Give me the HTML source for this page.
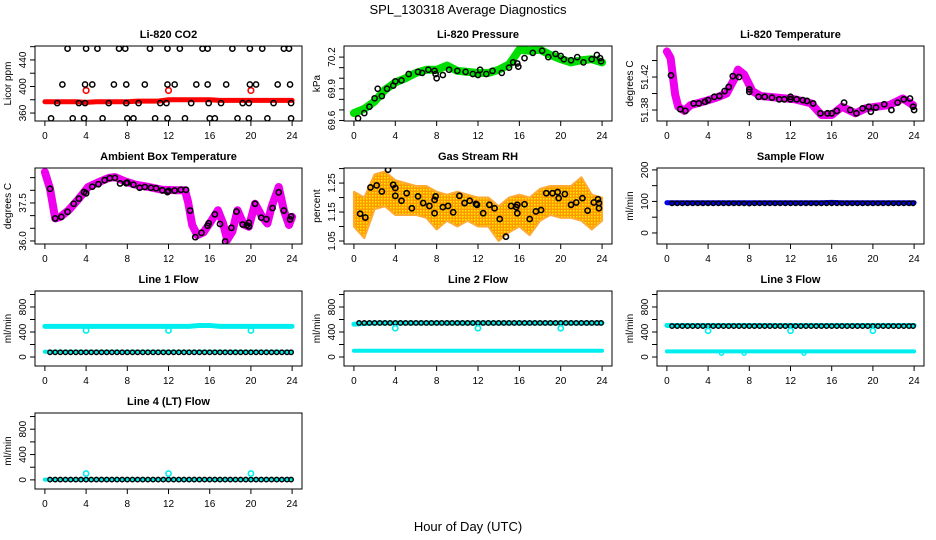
<!DOCTYPE html>
<html><head><meta charset="utf-8"><style>
body{margin:0;background:#fff}
svg{display:block;font-family:"Liberation Sans",sans-serif}
</style></head><body>
<svg id="c" width="936" height="540" viewBox="0 0 936 540">
<defs>
<pattern id="dots" width="3" height="3" patternUnits="userSpaceOnUse"><rect width="3" height="3" fill="#ff9900"/><rect width="1.5" height="1.5" fill="#ffee00"/></pattern>
</defs>
<text x="468" y="14" text-anchor="middle" font-size="13">SPL_130318  Average Diagnostics</text>
<text x="468" y="531" text-anchor="middle" font-size="13">Hour of Day (UTC)</text>
</svg>
<script>
const xTicks=[0,4,8,12,16,20,24];
const halfHours=[0.5,1,1.5,2,2.5,3,3.5,4,4.5,5,5.5,6,6.5,7,7.5,8,8.5,9,9.5,10,10.5,11,11.5,12,12.5,13,13.5,14,14.5,15,15.5,16,16.5,17,17.5,18,18.5,19,19.5,20,20.5,21,21.5,22,22.5,23,23.5,23.9];
const hours=[0,1,2,3,4,5,6,7,8,9,10,11,12,13,14,15,16,17,18,19,20,21,22,23,24];
// CO2
const co2Red=[377,377,377,377,376,377,377,377,377,378,378,378,380,380,380,380,380,379,379,379,379,379,379,379,379];
const co2OutX=[4,12,20], co2OutY=[394,394,394];
const co2BlackX=[2.2,4.0,5.1,7.2,7.8,10.2,11.9,13.1,15.3,15.8,18.2,19.9,21.1,23.2,23.7, 1.7,3.9,4.6,6.7,7.9,9.7,11.9,12.6,14.7,15.8,17.6,19.9,20.5,22.6,23.8, 1.2,3.3,3.9,6.2,7.9,9.1,11.2,11.8,14.2,15.9,17.1,19.2,19.8,22.2,23.9, 0.6,2.7,3.8,5.6,8.0,8.6,10.7,11.9,13.6,16.0,16.5,18.7,19.8,21.6,23.9];
const co2BlackY=[457,457,457,457,457,457,457,457,457,457,457,457,457,457,457, 403,403,403,403,403,403,403,403,403,403,403,403,403,403,403, 375,375,375,375,375,375,375,375,375,375,375,375,375,375,375, 352,352,352,352,352,352,352,352,352,352,352,352,352,352,352];
// Pressure
const presBand=[69.67,69.71,69.78,69.89,69.96,70.00,70.05,70.08,70.08,70.12,70.07,70.06,70.05,70.05,70.08,70.13,70.27,70.26,70.27,70.22,70.18,70.15,70.17,70.18,70.15];
const presBlackX=[0.4,1,1.5,2,2.3,2.7,3.2,3.8,4.0,4.6,5.3,6.2,6.6,7.2,7.8,7.9,8,8.6,9.2,10.0,10.8,11.5,12.0,12.2,12.8,13.4,14.3,15.0,15.4,15.8,15.9,16.5,17.3,18.2,18.8,19.5,20.0,20.3,21,21.6,22.2,23.0,23.5,23.8,23.9];
const presBlackY=[69.62,69.67,69.73,69.81,69.90,69.83,69.90,69.93,69.97,69.98,70.04,70.06,70.05,70.08,70.07,70.04,70.00,70.03,70.08,70.07,70.06,70.04,70.03,70.08,70.04,70.07,70.05,70.10,70.15,70.14,70.11,70.19,70.24,70.26,70.20,70.23,70.21,70.18,70.17,70.20,70.15,70.18,70.22,70.19,70.16];
// Li-820 temperature
const tempBandX=[0,0.36,0.6,0.8,1.1,1.7,2.3,3.5,4.8,5.8,6.6,6.9,7.5,8.3,9.1,10.7,12.4,14.0,15,16,17,18.3,19.3,20.3,21.6,22.9,23.9];
const tempBandY=[51.451,51.443,51.419,51.399,51.384,51.379,51.386,51.39,51.395,51.40,51.419,51.429,51.423,51.403,51.397,51.395,51.393,51.388,51.374,51.374,51.384,51.376,51.382,51.384,51.386,51.394,51.386];
const tempBlackX=[0.4,1.3,1.8,2.6,3.1,3.7,4.0,4.6,5.1,5.6,6.0,6.4,7.0,8.0,8.0,8.9,9.5,10.2,10.9,11.4,12.0,12.0,12.6,13.2,13.6,14.2,14.9,15.6,16.0,16.5,17.2,17.8,18.4,19.0,19.6,19.8,20.3,21.1,21.8,22.4,23.0,23.6,23.9,24];
const tempBlackY=[51.422,51.381,51.379,51.388,51.388,51.390,51.392,51.396,51.397,51.403,51.408,51.421,51.420,51.405,51.402,51.396,51.396,51.395,51.393,51.393,51.396,51.393,51.393,51.392,51.391,51.388,51.376,51.376,51.376,51.379,51.389,51.380,51.376,51.382,51.384,51.378,51.383,51.387,51.380,51.389,51.393,51.394,51.384,51.380];
// Ambient box temperature
const ambBandX=[0,0.5,1.0,1.5,2.3,3.3,4.2,5.2,6.2,6.8,7.8,8.8,10.1,11.4,12.7,13.6,13.9,14.3,14.8,15.4,16.1,16.8,17.3,17.7,18.2,18.7,19.3,19.8,20.4,21.1,21.6,22.0,22.7,23.2,23.7,24];
const ambBandY=[38.72,38.06,36.89,36.95,37.21,37.67,38.13,38.32,38.49,38.52,38.35,38.22,38.13,38.02,38.0,38.0,37.54,36.63,36.23,36.34,36.76,37.21,36.69,36.04,36.37,37.21,36.65,36.56,37.47,36.95,36.69,37.34,38.13,37.21,36.63,36.95];
const ambBlackX=[0.5,1.0,1.6,2.2,2.8,3.3,3.8,4.0,4.6,5.2,5.8,6.3,6.8,7.3,7.9,8,8.6,9.2,9.7,10.3,10.8,11.4,11.9,12.0,12.6,13.2,13.7,14.1,14.6,15.2,15.8,15.9,16.5,17.0,17.5,18.1,18.6,19.2,19.6,19.8,19.8,20.4,21.0,21.5,22.1,22.7,23.2,23.8,23.9];
const ambBlackY=[38.06,36.89,36.95,37.15,37.47,37.67,37.93,37.88,38.14,38.24,38.40,38.48,38.49,38.27,38.28,38.30,38.22,38.10,38.13,38.10,38.08,38.00,37.93,37.98,37.99,38.02,38.02,37.20,36.15,36.32,36.60,36.70,37.05,36.67,35.98,36.52,37.16,36.65,36.62,36.57,36.72,37.47,36.92,36.86,37.30,37.92,37.20,36.85,36.97];
// Gas stream RH
const rhUpper=[1.22,1.20,1.28,1.29,1.26,1.25,1.24,1.24,1.22,1.21,1.22,1.21,1.20,1.20,1.17,1.20,1.21,1.20,1.23,1.24,1.24,1.24,1.27,1.21,1.20];
const rhLower=[1.10,1.06,1.16,1.17,1.14,1.14,1.14,1.13,1.09,1.12,1.10,1.12,1.10,1.10,1.05,1.08,1.10,1.07,1.12,1.14,1.13,1.13,1.12,1.09,1.12];
const rhBlackX=[0.6,1.1,1.6,2.2,2.7,3.3,3.8,4.0,4.0,4.6,5.1,5.6,6.2,6.7,7.3,7.8,7.8,7.9,8.6,9.1,9.6,10.2,10.7,11.2,11.8,11.9,12.5,13.1,13.6,14.1,14.7,15.2,15.7,15.8,15.8,16.5,17.0,17.6,18.1,18.6,19.2,19.7,19.8,20.4,21.0,21.5,22.1,22.6,23.2,23.6,23.7,23.7];
const rhBlackY=[1.144,1.131,1.235,1.242,1.221,1.296,1.244,1.233,1.206,1.189,1.215,1.163,1.204,1.181,1.171,1.192,1.146,1.204,1.167,1.171,1.149,1.206,1.181,1.189,1.178,1.175,1.146,1.175,1.163,1.126,1.065,1.171,1.167,1.175,1.146,1.177,1.126,1.152,1.157,1.215,1.215,1.219,1.198,1.212,1.175,1.183,1.198,1.155,1.183,1.194,1.163,1.181];
// Sample flow
const sampleBand=[96,96,96,96,96,96,96,96,96,96,96,96,96,96,96,96,97,96,96,96,96,96,96,96,96];
const sampleBlack=[94,94,94,94,94,94,94,94,94,94,94,94,94,94,94,93,94,94,94,94,94,94,94,94,94,94,94,94,94,94,94,94,94,94,94,94,94,94,94,94,94,94,94,94,94,94,94,94];
// Line flows
const l1Upper=[490,490,490,490,490,490,490,490,490,490,490,490,490,490,490,505,505,490,490,490,490,490,490,490,490];
const l1Lower=[85,85,85,85,85,85,85,85,85,85,85,85,85,85,85,85,85,85,85,85,85,85,85,85,85];
const l1Black=[75,75,75,75,75,75,75,75,75,75,75,75,75,75,75,75,75,75,75,75,75,75,75,75,75,75,75,75,75,75,75,75,75,75,75,75,75,75,75,75,75,75,75,75,75,75,75,75];
const l1OutY=[425,425,425];
const l2Upper=[525,535,545,545,545,545,545,545,545,545,545,545,545,545,545,545,545,545,545,545,545,545,545,545,545];
const l2Lower=[100,100,100,100,100,100,100,100,100,100,100,100,100,100,100,100,100,100,100,100,100,100,100,100,100];
const l2Black=[545,545,545,545,545,545,545,545,545,545,545,545,545,545,545,545,545,545,545,545,545,545,545,545,545,545,545,545,545,545,545,545,545,545,545,545,545,545,545,545,545,545,545,545,545,545,545,545];
const l2OutY=[460,460,460];
const l3Upper=[505,505,505,505,505,505,505,505,505,505,505,505,505,505,505,505,505,505,505,505,505,505,505,505,505];
const l3Lower=[90,90,90,90,90,90,90,90,90,90,90,90,90,90,90,90,90,90,90,90,90,90,90,90,90];
const l3Black=[495,495,495,495,495,495,495,495,495,495,495,495,495,495,495,495,495,495,495,495,495,495,495,495,495,495,495,495,495,495,495,495,495,495,495,495,495,495,495,495,495,495,495,495,495,495,495,495];
const l3OutY=[420,420,420];
const l3DipX=[5.3,7.5,13.3], l3DipY=[60,60,60];
const l4Cyan=[5,5,5,5,5,5,5,5,5,5,5,5,5,5,5,5,5,5,5,5,5,5,5,5,5];
const l4Black=[5,5,5,5,5,5,5,5,5,5,5,5,5,5,5,5,5,5,5,5,5,5,5,5,5,5,5,5,5,5,5,5,5,5,5,5,5,5,5,5,5,5,5,5,5,5,5,5];
const l4OutY=[100,100,100];
const outX=[4,12,20];

const NS="http://www.w3.org/2000/svg";
const svg=document.getElementById('c');
const colL=[35,344,657], colR=[302,612,924];
const rowT=[46,168,291,413], rowB=[121,244,366,489];
let clipN=0;
function mk(tag,attrs,parent){const e=document.createElementNS(NS,tag);for(const k in attrs)e.setAttribute(k,attrs[k]);(parent||svg).appendChild(e);return e;}

function panel(col,row,title,ylab,ymin,ymax,yTicks,yLabels,name){
  const L=colL[col],R=colR[col],T=rowT[row],B=rowB[row];
  const g=mk('g',{});
  
  
  const x=v=>L+(v+0.96)/25.92*(R-L);
  const y=v=>B-(v-ymin)/(ymax-ymin)*(B-T);
  const id='cl'+(clipN++);
  const cp=mk('clipPath',{id:id},g);mk('rect',{x:L,y:T,width:R-L,height:B-T},cp);
  const data=mk('g',{'clip-path':'url(#'+id+')'},g);
  
  
  const box=mk('rect',{x:L,y:T,width:R-L,height:B-T,fill:'none',stroke:'#000','stroke-width':1},g);
  
  
  const t=mk('text',{x:(L+R)/2,y:T-8,'text-anchor':'middle','font-size':11,'font-weight':'bold'},g);
  t.textContent=title;
  
  
  const xa=mk('g',{},g);
  
  
  xTicks.forEach(v=>{
    mk('line',{x1:x(v),x2:x(v),y1:B,y2:B+5,stroke:'#000'},xa);
    const tl=mk('text',{x:x(v),y:B+18,'text-anchor':'middle','font-size':10},xa);
    tl.textContent=v;
    
    
  });
  const ya=mk('g',{},g);
  
  
  yTicks.forEach(v=>{mk('line',{x1:L-5,x2:L,y1:y(v),y2:y(v),stroke:'#000'},ya);});
  yLabels.forEach(v=>{
    const tl=mk('text',{x:L-9,y:y(v),'text-anchor':'middle','font-size':10,transform:`rotate(-90 ${L-9} ${y(v)})`},ya);
    tl.textContent=v;
    
    
  });
  const yl=mk('text',{x:L-24,y:(T+B)/2,'text-anchor':'middle','font-size':10,transform:`rotate(-90 ${L-24} ${(T+B)/2})`},g);
  yl.textContent=ylab;
  
  
  return {x,y,g:data};
}
function band(p,xs,ys,color,w,nm){
  const pts=xs.map((v,i)=>p.x(v)+','+p.y(ys[i])).join(' ');
  const e=mk('polyline',{points:pts,fill:'none',stroke:color,'stroke-width':w,'stroke-linejoin':'round','stroke-linecap':'round'},p.g);
  
  
}
function circles(p,xs,ys,color,r,sw,nm){
  xs.forEach((v,i)=>{
    const e=mk('circle',{cx:p.x(v),cy:p.y(ys[i]),r:r,fill:'none',stroke:color,'stroke-width':sw},p.g);
    
    
  });
}
function areaBand(p,xs,up,lo,nm){
  const pts=xs.map((v,i)=>p.x(v)+','+p.y(up[i])).concat(xs.slice().reverse().map((v,i)=>p.x(v)+','+p.y(lo[xs.length-1-i]))).join(' ');
  const e=mk('polygon',{points:pts,fill:'url(#dots)',stroke:'#ffaa33','stroke-width':2,'stroke-linejoin':'round'},p.g);
  
  
}

let p=panel(0,0,'Li-820 CO2','Licor ppm',348,461,[360,380,400,420,440,460],[360,400,440],'co2');
band(p,hours,co2Red,'#ff0000',5,'co2-band');
circles(p,co2OutX,co2OutY,'#ff0000',2.8,1.6,'co2-outlier');
circles(p,co2BlackX,co2BlackY,'#000',2.6,1.5,'co2-point');
p=panel(1,0,'Li-820 Pressure','kPa',69.595,70.305,[69.6,69.7,69.8,69.9,70.0,70.1,70.2],[69.6,69.9,70.2],'pressure');
band(p,hours,presBand,'#00dd00',8,'pressure-band');
circles(p,presBlackX,presBlackY,'#000',2.6,1.5,'pressure-point');
p=panel(2,0,'Li-820 Temperature','degrees C',51.3667,51.4576,[51.38,51.40,51.42,51.44],[51.38,51.42],'li-temp');
band(p,tempBandX,tempBandY,'#ee00ee',8,'li-temp-band');
circles(p,tempBlackX,tempBlackY,'#000',2.6,1.6,'li-temp-point');
p=panel(0,1,'Ambient Box Temperature','degrees C',35.88,38.88,[36.0,36.5,37.0,37.5,38.0,38.5],['36.0','37.5'],'ambient');
band(p,ambBandX,ambBandY,'#ee00ee',8,'ambient-band');
circles(p,ambBlackX,ambBlackY,'#000',2.6,1.6,'ambient-point');
p=panel(1,1,'Gas Stream RH','percent',1.0397,1.302,[1.05,1.10,1.15,1.20,1.25,1.30],[1.05,1.15,1.25],'rh');
areaBand(p,hours,rhUpper,rhLower,'rh-band');
circles(p,rhBlackX,rhBlackY,'#000',2.6,1.6,'rh-point');
p=panel(2,1,'Sample Flow','ml/min',-35,206,[0,50,100,150,200],[0,100,200],'sample-flow');
band(p,hours,sampleBand,'#0000ee',5,'sample-flow-band');
circles(p,halfHours,sampleBlack,'#000',2.2,1.4,'sample-flow-point');
const flowTicks=[0,200,400,600,800,1000], flowLabels=[0,400,800];
p=panel(0,2,'Line 1 Flow','ml/min',-144,1056,flowTicks,flowLabels,'line1');
band(p,hours,l1Upper,'#00eeee',5,'line1-upper-band');
band(p,hours,l1Lower,'#00eeee',4,'line1-lower-band');
circles(p,halfHours,l1Black,'#000',2.2,1.4,'line1-point');
circles(p,outX,l1OutY,'#00eeee',2.6,1.6,'line1-outlier');
p=panel(1,2,'Line 2 Flow','ml/min',-144,1056,flowTicks,flowLabels,'line2');
band(p,hours,l2Upper,'#00eeee',5,'line2-upper-band');
band(p,hours,l2Lower,'#00eeee',4,'line2-lower-band');
circles(p,halfHours,l2Black,'#000',2.2,1.4,'line2-point');
circles(p,outX,l2OutY,'#00eeee',2.6,1.6,'line2-outlier');
p=panel(2,2,'Line 3 Flow','ml/min',-144,1056,flowTicks,flowLabels,'line3');
band(p,hours,l3Upper,'#00eeee',5,'line3-upper-band');
band(p,hours,l3Lower,'#00eeee',4,'line3-lower-band');
circles(p,l3DipX,l3DipY,'#00eeee',2,1.4,'line3-dip');
circles(p,halfHours,l3Black,'#000',2.2,1.4,'line3-point');
circles(p,outX,l3OutY,'#00eeee',2.6,1.6,'line3-outlier');
p=panel(0,3,'Line 4 (LT) Flow','ml/min',-144,1056,flowTicks,flowLabels,'line4');
band(p,hours,l4Cyan,'#00eeee',4,'line4-band');
circles(p,halfHours,l4Black,'#000',2.2,1.4,'line4-point');
circles(p,outX,l4OutY,'#00eeee',2.6,1.6,'line4-outlier');
</script>
</body></html>
